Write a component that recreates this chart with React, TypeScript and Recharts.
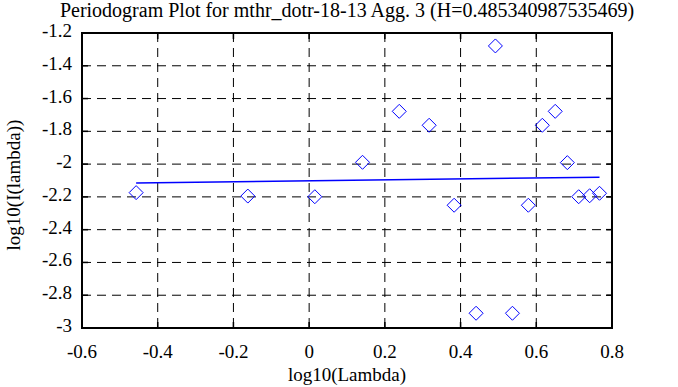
import React from 'react';
import {
  ScatterChart,
  Scatter,
  XAxis,
  YAxis,
  CartesianGrid,
  ReferenceArea,
} from 'recharts';

const xTicks = [-0.6, -0.4, -0.2, 0, 0.2, 0.4, 0.6, 0.8];
const yTicks = [-3, -2.8, -2.6, -2.4, -2.2, -2, -1.8, -1.6, -1.4, -1.2];

// log10(Lambda) and log10(I(lambda))
const logLambda = [
  -0.457, -0.162, 0.015, 0.141, 0.238, 0.317, 0.383, 0.441, 0.492,
  0.537, 0.579, 0.616, 0.65, 0.682, 0.712, 0.741, 0.767,
];
const logPower = [
  -2.174, -2.195, -2.199, -1.989, -1.678, -1.763, -2.251, -2.91, -1.279,
  -2.91, -2.251, -1.763, -1.678, -1.991, -2.199, -2.193, -2.178,
];

// least squares fit end points
const fitLambda = [-0.457, 0.767];
const fitPower = [-2.115, -2.08];

const points = logLambda.map((x, i) => ({ x, y: logPower[i] }));
const fit = fitLambda.map((x, i) => ({ x, y: fitPower[i] }));

const W = 678;
const H = 387;
const PLOT = { left: 82, top: 33, right: 612, bottom: 328 };
const FONT = 'Liberation Serif, Times New Roman, serif';
const FS = 19;
const BLUE = '#0000ff';

const fmt = (v: number) => String(v);

const Diamond = (props: any) => {
  const { cx, cy } = props;
  if (cx == null || cy == null) return null;
  const r = 7;
  return (
    <path
      d={`M${cx},${cy - r}L${cx + r},${cy}L${cx},${cy + r}L${cx - r},${cy}Z`}
      fill="none"
      stroke={BLUE}
      strokeWidth={1}
    />
  );
};

// bottom labels plus the short inward ticks on the bottom and top edges
const XTick = (props: any) => {
  const { x, payload } = props;
  const inner = payload.value > xTicks[0] && payload.value < xTicks[xTicks.length - 1];
  return (
    <g>
      {inner && (
        <>
          <line x1={x} x2={x} y1={PLOT.bottom} y2={PLOT.bottom - 6} stroke="#000" strokeWidth={1.5} />
          <line x1={x} x2={x} y1={PLOT.top} y2={PLOT.top + 6} stroke="#000" strokeWidth={1.5} />
        </>
      )}
      <text x={x} y={PLOT.bottom + 30} textAnchor="middle" style={{ fontFamily: FONT, fontSize: FS }} fill="#000">
        {fmt(payload.value)}
      </text>
    </g>
  );
};

const YTick = (props: any) => {
  const { y, payload } = props;
  const inner = payload.value > yTicks[0] && payload.value < yTicks[yTicks.length - 1];
  return (
    <g>
      {inner && (
        <>
          <line x1={PLOT.left} x2={PLOT.left + 6} y1={y} y2={y} stroke="#000" strokeWidth={1.5} />
          <line x1={PLOT.right} x2={PLOT.right - 6} y1={y} y2={y} stroke="#000" strokeWidth={1.5} />
        </>
      )}
      <text x={PLOT.left - 10} y={y + 4} textAnchor="end" style={{ fontFamily: FONT, fontSize: FS }} fill="#000">
        {fmt(payload.value)}
      </text>
    </g>
  );
};

const App: React.FC = () => {
  return (
    <div style={{ position: 'absolute', left: 0, top: 0, width: W, height: H, background: '#fff', fontFamily: FONT }}>
      <ScatterChart
        width={W}
        height={H}
        margin={{ top: PLOT.top, right: W - PLOT.right, bottom: 0, left: 0 }}
        style={{ position: 'absolute', left: 0, top: 0 }}
      >
        <CartesianGrid stroke="#000" strokeDasharray="9 6" strokeWidth={1} />
        <XAxis
          type="number"
          dataKey="x"
          domain={[-0.6, 0.8]}
          ticks={xTicks}
          height={H - PLOT.bottom}
          axisLine={false}
          tickLine={false}
          tick={<XTick />}
          interval={0}
          allowDataOverflow
        />
        <YAxis
          type="number"
          dataKey="y"
          domain={[-3, -1.2]}
          ticks={yTicks}
          width={PLOT.left}
          axisLine={false}
          tickLine={false}
          tick={<YTick />}
          interval={0}
          allowDataOverflow
        />
        <ReferenceArea
          x1={-0.6}
          x2={0.8}
          y1={-3}
          y2={-1.2}
          fill="none"
          fillOpacity={0}
          stroke="#000"
          strokeWidth={2}
          strokeOpacity={1}
          ifOverflow="visible"
        />
        <Scatter
          data={fit}
          line={{ stroke: BLUE, strokeWidth: 1.5 }}
          shape={() => null}
          isAnimationActive={false}
        />
        <Scatter data={points} shape={<Diamond />} isAnimationActive={false} />
      </ScatterChart>
      <div
        style={{
          position: 'absolute',
          left: 0,
          width: 694,
          top: 0,
          lineHeight: '20px',
          textAlign: 'center',
          fontSize: 20,
          color: '#000',
          whiteSpace: 'nowrap',
        }}
      >
        Periodogram Plot for mthr_dotr-18-13 Agg. 3 (H=0.485340987535469)
      </div>
      <div
        style={{
          position: 'absolute',
          left: PLOT.left,
          width: PLOT.right - PLOT.left,
          top: 364,
          lineHeight: '22px',
          textAlign: 'center',
          fontSize: FS,
          color: '#000',
          whiteSpace: 'nowrap',
        }}
      >
        log10(Lambda)
      </div>
      <div
        style={{
          position: 'absolute',
          left: 14 - 100,
          top: 185 - 11,
          width: 200,
          lineHeight: '22px',
          textAlign: 'center',
          fontSize: FS,
          color: '#000',
          whiteSpace: 'nowrap',
          transform: 'rotate(-90deg)',
        }}
      >
        log10(I(lambda))
      </div>
    </div>
  );
};

export default App;
